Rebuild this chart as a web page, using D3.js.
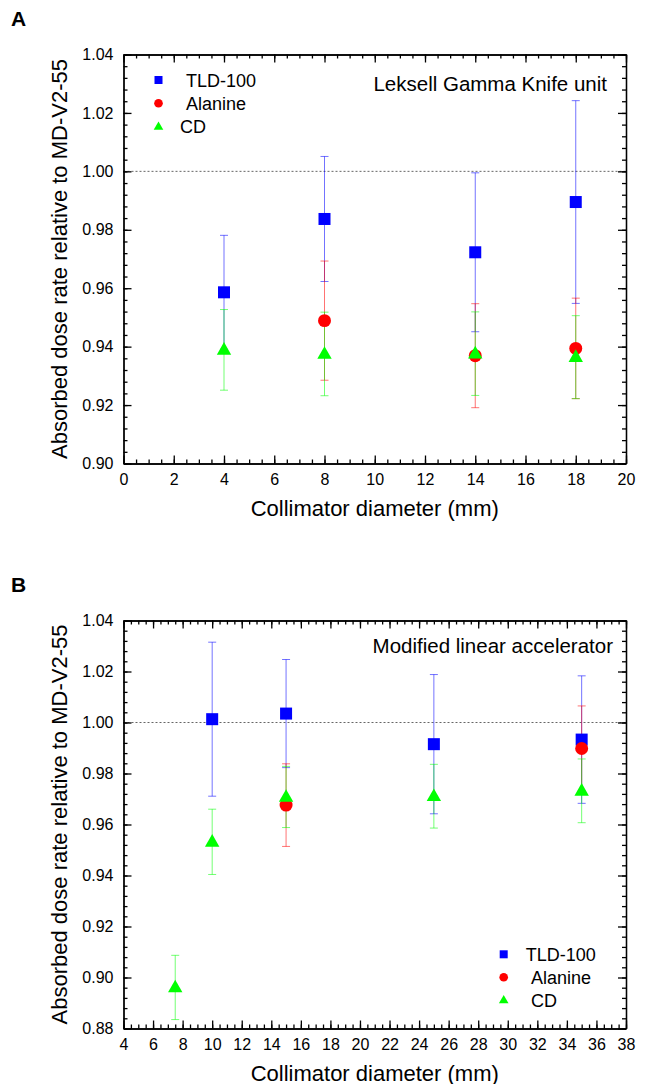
<!DOCTYPE html>
<html>
<head>
<meta charset="utf-8">
<script src="https://d3js.org/d3.v7.min.js"></script>
<style>
  body { margin: 0; background: #fff; }
  svg text { font-family: "Liberation Sans", Arial, sans-serif; fill: #000; }
  .axis path, .axis line { stroke: #000; stroke-width: 1.3; }
  .axis text { font-size: 16px; }
</style>
</head>
<body>
<svg width="646" height="1084"></svg>
<script>
// ---- data: panel A (Leksell Gamma Knife) ----
var tldDiamA = [4, 8, 14, 18];
var tldA = [0.9586, 0.9837, 0.9723, 0.9895];
var tldErrA = [0.0195, 0.0214, 0.0272, 0.0347];
var alaDiamA = [8, 14, 18];
var alaA = [0.9489, 0.9369, 0.9394];
var alaErrA = [0.0204, 0.0178, 0.0172];
var cdDiamA = [4, 8, 14, 18];
var cdA = [0.9389, 0.9375, 0.9376, 0.9364];
var cdErrA = [0.0138, 0.0143, 0.0143, 0.0142];

// ---- data: panel B (modified linac) ----
var tldDiamB = [10, 15, 25, 35];
var tldB = [1.0013, 1.0035, 0.9915, 0.9933];
var tldErrB = [0.0302, 0.0212, 0.0273, 0.0250];
var alaDiamB = [15, 35];
var alaB = [0.9676, 0.9898];
var alaErrB = [0.0162, 0.0167];
var cdDiamB = [7.5, 10, 15, 25, 35];
var cdB = [0.8961, 0.9532, 0.9708, 0.9711, 0.9732];
var cdErrB = [0.0126, 0.0128, 0.0120, 0.0125, 0.0125];

var seriesNames = ["TLD-100", "Alanine", "CD"];
var colors = ["#0000ff", "#ff0000", "#00ff00"];
var xTicksA = d3.range(0, 20.01, 2);
var yTicksA = [0.90, 0.92, 0.94, 0.96, 0.98, 1.00, 1.02, 1.04];
var xTicksB = d3.range(4, 38.01, 2);
var yTicksB = [0.88, 0.90, 0.92, 0.94, 0.96, 0.98, 1.00, 1.02, 1.04];

var svg = d3.select("svg");

function zip(xs, ys, es) {
    return xs.map(function (x, i) { return { x: x, y: ys[i], e: es[i] }; });
}

function marker(sel, kind, size, color) {
    if (kind == 0) {
        sel.append("rect").attr("x", -size / 2).attr("y", -size / 2)
            .attr("width", size).attr("height", size).attr("fill", color);
    } else if (kind == 1) {
        sel.append("circle").attr("r", size * 0.54).attr("fill", color);
    } else {
        var w = size * 1.2, h = size * 1.05;
        sel.append("path")
            .attr("d", "M0," + (-h * 0.62) + "L" + (w / 2) + "," + (h * 0.38) + "L" + (-w / 2) + "," + (h * 0.38) + "Z")
            .attr("fill", color);
    }
}

function drawPanel(p) {
    var g = svg.append("g").attr("transform", "translate(" + p.left + "," + p.top + ")");
    var w = p.width, h = p.height;
    var x = d3.scaleLinear().domain(p.xDomain).range([0, w]);
    var y = d3.scaleLinear().domain(p.yDomain).range([h, 0]);

    var xMinor = d3.range(p.xDomain[0], p.xDomain[1] + 0.001, 0.5);
    var yMinor = d3.range(0, 41).map(function (i) { return p.yDomain[0] + i * 0.004; })
        .filter(function (v) { return v <= p.yDomain[1] + 1e-6; });

    // reference line at 1.00
    g.append("line")
        .attr("x1", 0).attr("x2", w)
        .attr("y1", y(1)).attr("y2", y(1))
        .attr("stroke", "#666").attr("stroke-width", 1)
        .attr("stroke-dasharray", "2,2");

    // axes with inward ticks, all four sides
    g.append("g").attr("class", "axis").attr("transform", "translate(0," + h + ")")
        .call(d3.axisBottom(x).tickValues(xMinor).tickSize(-4).tickSizeOuter(0).tickFormat(""));
    g.append("g").attr("class", "axis").attr("transform", "translate(0," + h + ")")
        .call(d3.axisBottom(x).tickValues(p.xTicks).tickSize(-8).tickSizeOuter(0).tickPadding(10)
            .tickFormat(d3.format("d")));
    g.append("g").attr("class", "axis")
        .call(d3.axisTop(x).tickValues(xMinor).tickSize(-4).tickSizeOuter(0).tickFormat(""));
    g.append("g").attr("class", "axis")
        .call(d3.axisTop(x).tickValues(p.xTicks).tickSize(-8).tickSizeOuter(0).tickFormat(""));

    g.append("g").attr("class", "axis")
        .call(d3.axisLeft(y).tickValues(yMinor).tickSize(-4).tickSizeOuter(0).tickFormat(""));
    g.append("g").attr("class", "axis")
        .call(d3.axisLeft(y).tickValues(p.yTicks).tickSize(-8).tickSizeOuter(0).tickPadding(10)
            .tickFormat(d3.format(".2f")));
    g.append("g").attr("class", "axis").attr("transform", "translate(" + w + ",0)")
        .call(d3.axisRight(y).tickValues(yMinor).tickSize(-4).tickSizeOuter(0).tickFormat(""));
    g.append("g").attr("class", "axis").attr("transform", "translate(" + w + ",0)")
        .call(d3.axisRight(y).tickValues(p.yTicks).tickSize(-8).tickSizeOuter(0).tickFormat(""));

    // error bars
    p.series.forEach(function (s, k) {
        var eb = g.append("g").attr("stroke", colors[k]).attr("stroke-opacity", 0.55).attr("stroke-width", 1);
        s.forEach(function (d) {
            var cx = x(d.x);
            eb.append("line").attr("x1", cx).attr("x2", cx).attr("y1", y(d.y - d.e)).attr("y2", y(d.y + d.e));
            eb.append("line").attr("x1", cx - 4).attr("x2", cx + 4).attr("y1", y(d.y + d.e)).attr("y2", y(d.y + d.e));
            eb.append("line").attr("x1", cx - 4).attr("x2", cx + 4).attr("y1", y(d.y - d.e)).attr("y2", y(d.y - d.e));
        });
    });

    // markers
    p.series.forEach(function (s, k) {
        s.forEach(function (d) {
            var m = g.append("g").attr("transform", "translate(" + x(d.x) + "," + y(d.y) + ")");
            marker(m, k, 12, colors[k]);
        });
    });

    // legend
    seriesNames.forEach(function (name, k) {
        var m = svg.append("g").attr("transform", "translate(" + p.legend.x + "," + (p.legend.y + k * p.legend.step) + ")");
        marker(m, k, 8, colors[k]);
        svg.append("text")
            .attr("x", p.legend.tx[k])
            .attr("y", p.legend.y + k * p.legend.step + 6.5)
            .attr("font-size", "18px")
            .text(name);
    });

    // annotation
    svg.append("text")
        .attr("x", p.note.x).attr("y", p.note.y)
        .attr("text-anchor", "end")
        .attr("font-size", "20.5px")
        .text(p.note.text);

    // axis titles
    svg.append("text")
        .attr("x", p.left + w / 2).attr("y", p.top + h + 52)
        .attr("text-anchor", "middle")
        .attr("font-size", "22px")
        .text("Collimator diameter (mm)");
    svg.append("text")
        .attr("transform", "translate(67," + (p.top + h / 2) + ") rotate(-90)")
        .attr("text-anchor", "middle")
        .attr("font-size", "22px")
        .text("Absorbed dose rate relative to MD-V2-55");

    // panel letter
    svg.append("text")
        .attr("x", 11).attr("y", p.top - 29)
        .attr("font-size", "21px").attr("font-weight", "bold")
        .text(p.letter);
}

drawPanel({
    letter: "A", left: 123.5, top: 54.5, width: 502.5, height: 409,
    xDomain: [0, 20], yDomain: [0.90, 1.04], xTicks: xTicksA, yTicks: yTicksA,
    series: [zip(tldDiamA, tldA, tldErrA), zip(alaDiamA, alaA, alaErrA), zip(cdDiamA, cdA, cdErrA)],
    legend: { x: 158.5, y: 80, step: 23.3, tx: [186, 186, 180] },
    note: { x: 607, y: 91, text: "Leksell Gamma Knife unit" }
});

drawPanel({
    letter: "B", left: 123.5, top: 620.5, width: 502.5, height: 408,
    xDomain: [4, 38], yDomain: [0.88, 1.04], xTicks: xTicksB, yTicks: yTicksB,
    series: [zip(tldDiamB, tldB, tldErrB), zip(alaDiamB, alaB, alaErrB), zip(cdDiamB, cdB, cdErrB)],
    legend: { x: 503.7, y: 954.3, step: 22.9, tx: [525.7, 531, 531] },
    note: { x: 613, y: 653, text: "Modified linear accelerator" }
});
</script>
</body>
</html>
